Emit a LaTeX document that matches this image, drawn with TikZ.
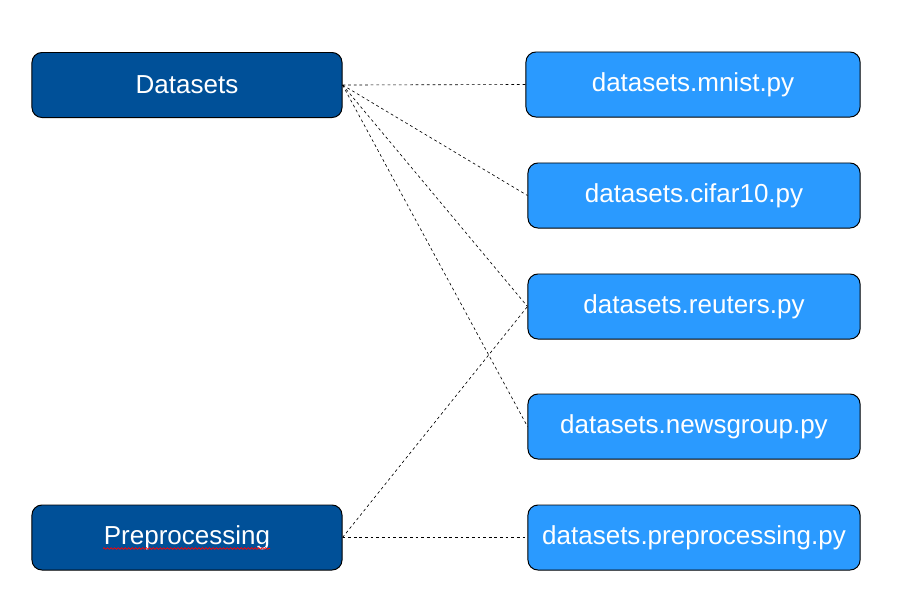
\documentclass[tikz,border=0pt]{standalone}
\usepackage{fontspec}
\setmainfont{Liberation Sans}
\usetikzlibrary{decorations.pathmorphing}
\definecolor{dunkelblau}{RGB}{0,80,152}
\definecolor{hellblau}{RGB}{42,154,255}
\tikzset{
	modul/.style={draw=black, line width=0.7pt, rounded corners=0.25cm, fill=dunkelblau, text=white, minimum width=7.75cm, minimum height=1.625cm, font=\fontsize{18.5}{22}\selectfont},
	datei/.style={modul, fill=hellblau, minimum width=8.3cm},
	verbindung/.style={line width=0.45pt, dash pattern=on 2pt off 2pt}
}
\begin{document}
\begin{tikzpicture}[x=0.025cm, y=-0.025cm]
	\useasboundingbox (0,0) rectangle (900,600);
	% Hauptmodule links
	\node [modul] (datasets) at (187,85) {Datasets};
	\node [modul] (prep) at (187,537.5) {Preprocessing};
	% Rechtschreibmarkierung
	\draw [red, line width=0.5pt, decorate, decoration={snake, amplitude=0.6pt, segment length=2.5pt}] (103,548.5) -- (270,548.5);
	% Dateien rechts
	\node [datei, minimum width=8.35cm] (mnist) at (693,84.5) {datasets.mnist.py};
	\node [datei] (cifar) at (694,195.5) {datasets.cifar10.py};
	\node [datei] (reuters) at (694,306.5) {datasets.reuters.py};
	\node [datei] (news) at (694,426.5) {datasets.newsgroup.py};
	\node [datei] (pyprep) at (694,537.5) {datasets.preprocessing.py};
	%%%% Verbindungen
	\draw [verbindung] (datasets.east) -- (mnist.west);
	\draw [verbindung] (datasets.east) -- (cifar.west);
	\draw [verbindung] (datasets.east) -- (reuters.west);
	\draw [verbindung] (datasets.east) -- (news.west);
	\draw [verbindung] (prep.east) -- (reuters.west);
	\draw [verbindung] (prep.east) -- (pyprep.west);
\end{tikzpicture}
\end{document}
